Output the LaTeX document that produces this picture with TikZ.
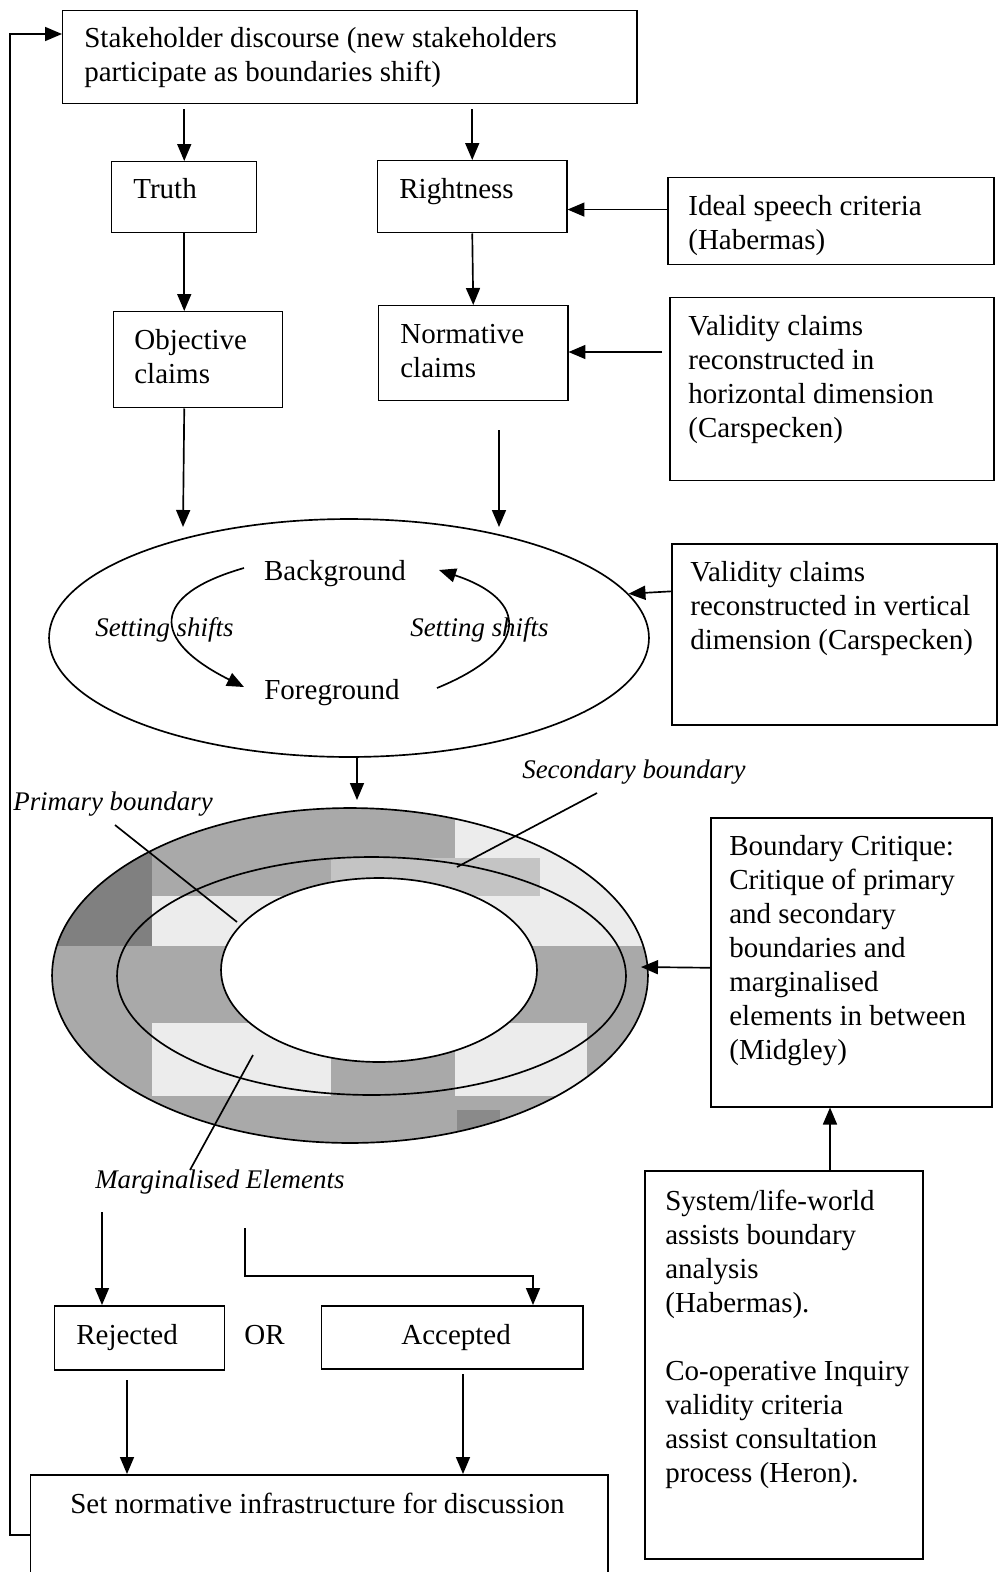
\documentclass[tikz,border=0pt]{standalone}
\usepackage{fontspec}
\setmainfont{Liberation Serif}
\usetikzlibrary{arrows.meta,shapes.geometric,calc}

\newcommand\bodysize{\fontsize{16.5}{19.35}\selectfont}
\newcommand\labsize{\fontsize{15.3}{18}\selectfont\itshape}
\newcommand\tstrut{\rule{0pt}{14pt}}

\definecolor{ringmid}{HTML}{A9A9A9}
\definecolor{ringdark}{HTML}{808080}
\definecolor{ringlight}{HTML}{ECECEC}
\definecolor{ringpale}{HTML}{C4C4C4}
\definecolor{ringdeep}{HTML}{8A8A8A}

\begin{document}
\begin{tikzpicture}[x=0.02cm, y=-0.02cm,
  wh/.style 2 args={minimum width=#1*0.02cm, minimum height=#2*0.02cm},
  box/.style={draw, line width=0.85pt, rectangle, inner sep=0pt, anchor=north west},
  txt/.style={anchor=north west, inner sep=0pt, align=left, yshift=14pt, font=\bodysize},
  word/.style={anchor=base west, inner sep=0pt, font=\bodysize},
  lab/.style={anchor=base west, inner sep=0pt, font=\labsize},
  oval/.style={draw, line width=0.95pt, ellipse, inner sep=0pt},
  arr/.style={line width=0.95pt, -{Triangle[length=3.4mm, width=2.8mm]}},
  link/.style={line width=0.95pt}]

\clip (0,0) rectangle (999,1572);

% ---------- boxes ----------
\node[box, wh={574}{93}]  (sd)    at (62,10)    {};
\node[box, wh={145}{71}]  (truth) at (111,161)  {};
\node[box, wh={189}{72}]  (right) at (377,160)  {};
\node[box, wh={326}{87}]  (ideal) at (667,177)  {};
\node[box, wh={169}{96}]  (obj)   at (113,311)  {};
\node[box, wh={189}{95}]  (norm)  at (378,305)  {};
\node[box, wh={324}{183}] (vh)    at (669,297)  {};
\node[box, wh={325}{181}] (vv)    at (671,543)  {};
\node[box, wh={281}{289}] (bc)    at (710,817)  {};
\node[box, wh={278}{388}] (sys)   at (644,1170) {};
\node[box, wh={170}{64}]  (rej)   at (54,1305)  {};
\node[box, wh={261}{63}]  (acc)   at (321,1305) {};
\node[box, wh={577}{140}] (setn)  at (30,1474)  {};

% ---------- box texts ----------
\node[txt] (sdT) at (84,47) {\tstrut Stakeholder discourse (new stakeholders\\participate as boundaries shift)};
\node[txt] (truthT) at (133,198) {\tstrut Truth};
\node[txt] (rightT) at (399,198) {\tstrut Rightness};
\node[txt] (idealT) at (688,215) {\tstrut Ideal speech criteria\\(Habermas)};
\node[txt] (objT) at (134,349) {\tstrut Objective\\claims};
\node[txt] (normT) at (400,343) {\tstrut Normative\\claims};
\node[txt] (vhT) at (688,335) {\tstrut Validity claims\\reconstructed in\\horizontal dimension\\(Carspecken)};
\node[txt] (vvT) at (690,581) {\tstrut Validity claims\\reconstructed in vertical\\dimension (Carspecken)};
\node[txt] (bcT) at (729,855) {\tstrut Boundary Critique:\\Critique of primary\\and secondary\\boundaries and\\marginalised\\elements in between\\(Midgley)};
\node[txt] (sysT) at (665,1210) {\tstrut System/life-world\\assists boundary\\analysis\\(Habermas).\\[19.35pt]Co-operative Inquiry\\validity criteria\\assist consultation\\process (Heron).};
\node[word] (rejT) at (76,1344) {Rejected};
\node[word] (orT)  at (244,1344) {OR};
\node[word] (accT) at (401,1344) {Accepted};
\node[word] (setT) at (70,1513) {Set normative infrastructure for discussion};

% ---------- background / foreground setting ----------
\node[oval, minimum width=12cm, minimum height=4.76cm] (ell) at (349,638) {};
\node[anchor=base, inner sep=0pt, font=\bodysize] (bg) at (335,580) {Background};
\node[anchor=base, inner sep=0pt, font=\bodysize] (fg) at (332,699) {Foreground};
\node[lab] (ssL) at (95,636) {Setting shifts};
\node[lab] (ssR) at (410,636) {Setting shifts};
\coordinate (bgL) at (244,568);
\coordinate (fgL) at (244,687);
\coordinate (fgR) at (437,688);
\coordinate (bgR) at (439,570);
\draw[arr] (bgL) .. controls (150,595) and (150,640) .. (fgL);
\draw[arr] (fgR) .. controls (530,650) and (530,600) .. (bgR);

% ---------- boundary rings ----------
\begin{scope}
  \clip (350,975.5) ellipse [x radius=5.96cm, y radius=3.35cm];
  \fill[ringmid]   (40,790) rectangle (660,1160);
  \fill[ringdark]  (40,850) rectangle (152,946);
  \fill[ringlight] (455,790) rectangle (660,862);
  \fill[ringlight] (540,862) rectangle (660,946);
  \fill[ringlight] (455,896) rectangle (540,946);
  \fill[ringpale]  (331,858) rectangle (540,896);
  \fill[ringlight] (152,896) rectangle (331,946);
  \fill[ringlight] (152,1023) rectangle (331,1096);
  \fill[ringlight] (455,1023) rectangle (587,1096);
  \fill[ringdeep]  (457,1110) rectangle (500,1133);
\end{scope}
\node[oval, minimum width=11.92cm, minimum height=6.70cm] (ringO) at (350,975.5) {};
\node[oval, minimum width=10.18cm, minimum height=4.76cm] (ringM) at (371.5,976) {};
\node[oval, fill=white, minimum width=6.32cm, minimum height=3.68cm] (ringI) at (379,970) {};

% ---------- ring labels ----------
\node[lab] (secL) at (522,778) {Secondary boundary};
\node[lab] (priL) at (13,810) {Primary boundary};
\node[lab] (marL) at (95,1188) {Marginalised Elements};
\coordinate (secA) at (597,793);
\coordinate (secB) at (457,867);
\coordinate (priA) at (115,825);
\coordinate (priB) at (237,922);
\coordinate (marA) at (190,1170);
\coordinate (marB) at (253,1055);
\draw[link] (secA) -- (secB);
\draw[link] (priA) -- (priB);
\draw[link] (marA) -- (marB);

% ---------- connectors ----------
\draw[arr, shorten <=1mm] (sd.south -| truth.north) -- (truth.north);
\draw[arr, shorten <=1mm] (sd.south -| right.north) -- (right.north);
\draw[arr] (truth.south) -- (truth.south |- obj.north);
\draw[arr] (right.south) -- (norm.north);

\coordinate (idealA) at ($(ideal.north west)!0.368!(ideal.south west)$);
\draw[arr] (idealA) -- (idealA -| right.east);
\coordinate (vhA) at (662,352);
\draw[arr] (vhA) -- (vhA -| norm.east);

\coordinate (objA) at (truth.south |- obj.south);
\coordinate (objB) at (183,527);
\draw[arr] (objA) -- (objB);
\coordinate (normA) at (499,430);
\coordinate (normB) at (499,527);
\draw[arr] (normA) -- (normB);

\coordinate (vvA) at ($(vv.north west)!0.265!(vv.south west)$);
\draw[arr] (vvA) -- (ell.9.7);

\coordinate (ellA) at (357,758);
\coordinate (ellB) at (357,800);
\draw[arr] (ellA) -- (ellB);

\coordinate (bcA) at ($(bc.north west)!0.519!(bc.south west)$);
\coordinate (bcB) at (641,967);
\draw[arr] (bcA) -- (bcB);

\coordinate (sysA) at (830,1170);
\draw[arr] (sysA) -- (sysA |- bc.south);

\coordinate (rejA) at (102,1212);
\draw[arr] (rejA) -- (rejA |- rej.north);
\coordinate (accA) at (245,1228);
\coordinate (accK) at (245,1276);
\coordinate (accB) at (533,1305);
\draw[arr] (accA) -- (accK) -| (accB);

\coordinate (rejS) at (127,1380);
\draw[arr] (rejS) -- (rejS |- setn.north);
\coordinate (accS) at (463,1374);
\draw[arr] (accS) -- (accS |- setn.north);

% ---------- feedback loop ----------
\coordinate (fbS) at (30,1535);
\coordinate (fbC) at (10,1535);
\coordinate (fbT) at (62,34);
\draw[arr] (fbS) -- (fbC) |- (fbT);

\end{tikzpicture}
\end{document}
